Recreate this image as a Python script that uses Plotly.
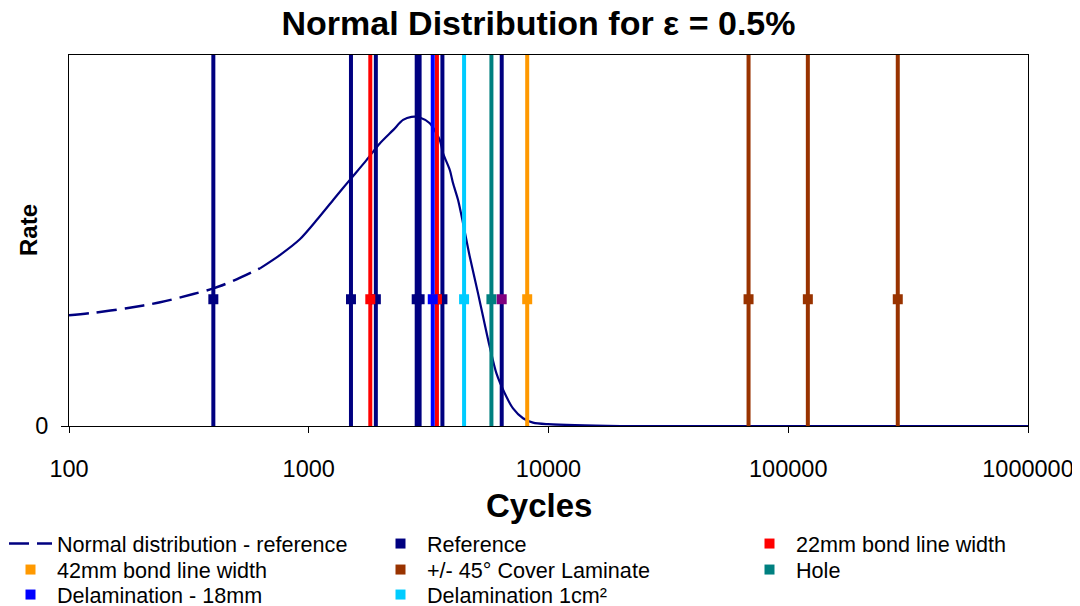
import plotly.graph_objects as go

# ---------------- data ----------------
TITLE = "Normal Distribution for ε = 0.5%"
X_TITLE = "Cycles"
Y_TITLE = "Rate"
X_TICK_VALUES = [100, 1000, 10000, 100000, 1000000]
X_TICK_LABELS = ["100", "1000", "10000", "100000", "1000000"]
Y_TICK_VALUES = [0]
Y_TICK_LABELS = ["0"]

# normal distribution curve (arbitrary rate units, peak = 1)
CURVE_DASHED_X = [100, 126, 174, 240, 330, 400, 500, 626]
CURVE_DASHED_Y = [0.358, 0.366, 0.381, 0.400, 0.427, 0.445, 0.474, 0.510]
CURVE_SOLID_X = [626, 758, 918, 1095, 1264, 1484, 1741, 1979, 2248, 2474, 2682,
                 2905, 3197, 3520, 3633, 3875, 3999, 4196, 4401, 4694, 5083,
                 5334, 5687, 6066, 6568, 7113, 7830, 8619, 9952, 20000, 1000000]
CURVE_SOLID_Y = [0.510, 0.553, 0.604, 0.672, 0.731, 0.796, 0.860, 0.914, 0.957,
                 0.990, 1.000, 0.998, 0.979, 0.925, 0.882, 0.828, 0.785, 0.731,
                 0.656, 0.548, 0.429, 0.354, 0.256, 0.170, 0.106, 0.057, 0.025,
                 0.011, 0.006, 0.0, 0.0]

MARKER_RATE = 0.41
Y_MAX = 1.2

CURVE_NAME = "Normal distribution - reference"
SERIES_NAMES = ["Reference", "22mm bond line width", "42mm bond line width",
                "+/- 45° Cover Laminate", "Hole", "Delamination - 18mm",
                "Delamination 1cm²"]
REFERENCE_CYCLES = [400, 1500, 1905, 2820, 2900, 3610]
BOND22_CYCLES = [1806, 3425]
BOND42_CYCLES = [8150]
COVER45_CYCLES = [68300, 120700, 286300]
HOLE_CYCLES = [5780]
DELAM18_CYCLES = [3290]
DELAM1CM_CYCLES = [4445]
UNLABELLED_CYCLES = [6380]

SERIES_CYCLES = [REFERENCE_CYCLES, BOND22_CYCLES, BOND42_CYCLES, COVER45_CYCLES,
                 HOLE_CYCLES, DELAM18_CYCLES, DELAM1CM_CYCLES]
SERIES_COLORS = ["#000080", "#FF0000", "#FF9900", "#993300", "#008080",
                 "#0000FF", "#00CCFF"]

# ---------------- layout helpers ----------------
# the html page body has an 8px margin, so the figure is drawn 8px in from the corner
OFF = 8
W, H = 1080 - OFF, 606 - OFF
PL, PR, PT, PB = 69 - OFF, 1028 - OFF, 55 - OFF, 426 - OFF  # plot area in figure px
FONT = "Liberation Sans, Arial, sans-serif"


def px_to_paper_x(px):
    """px measured on the 1080x606 screen"""
    return (px - OFF - PL) / (PR - PL)


def px_to_paper_y(py):
    return (PB - (py - OFF)) / (PB - PT)


fig = go.Figure()

# legend slots: (column left px, row centre px) on screen
COL_X = [4, 374, 743]
ROW_Y = [544, 570, 595]
legend_slots = [(0, 0), (1, 0), (2, 0), (0, 1), (1, 1), (2, 1), (0, 2), (1, 2)]
legend_ids = ["legend"] + ["legend%d" % i for i in range(2, 9)]

# curve
fig.add_trace(go.Scatter(
    x=CURVE_DASHED_X, y=CURVE_DASHED_Y, mode="lines", name=CURVE_NAME,
    line=dict(color="#000080", width=2.5, dash="20px,8px", shape="spline",
              smoothing=0.8),
    legend=legend_ids[0], hoverinfo="skip"))
fig.add_trace(go.Scatter(
    x=CURVE_SOLID_X, y=CURVE_SOLID_Y, mode="lines", name=CURVE_NAME,
    line=dict(color="#000080", width=2.2, shape="spline", smoothing=0.8),
    showlegend=False, hoverinfo="skip"))


def vlines(values):
    xs, ys = [], []
    for v in values:
        xs += [v, v, None]
        ys += [0, Y_MAX, None]
    return xs, ys


# vertical lines
all_lines = list(zip(SERIES_CYCLES, SERIES_COLORS)) + [(UNLABELLED_CYCLES, "#000080")]
for vals, col in all_lines:
    xs, ys = vlines(vals)
    fig.add_trace(go.Scatter(x=xs, y=ys, mode="lines", showlegend=False,
                             line=dict(color=col, width=4), hoverinfo="skip"))

# markers
for i, (name, vals, col) in enumerate(zip(SERIES_NAMES, SERIES_CYCLES, SERIES_COLORS)):
    fig.add_trace(go.Scatter(
        x=vals, y=[MARKER_RATE] * len(vals), mode="markers", name=name,
        marker=dict(symbol="square", size=10, color=col),
        legend=legend_ids[i + 1]))
fig.add_trace(go.Scatter(
    x=UNLABELLED_CYCLES, y=[MARKER_RATE] * len(UNLABELLED_CYCLES), mode="markers",
    marker=dict(symbol="square", size=10, color="#800080"), showlegend=False))

legends = {}
for lid, (c, r) in zip(legend_ids, legend_slots):
    legends[lid] = dict(
        x=px_to_paper_x(COL_X[c]), xanchor="left",
        y=px_to_paper_y(ROW_Y[r]), yanchor="middle",
        bgcolor="rgba(0,0,0,0)", borderwidth=0, itemwidth=43,
        font=dict(family=FONT, size=21.6, color="#000000"))

fig.update_layout(
    width=W, height=H,
    margin=dict(l=PL, r=W - PR, t=PT, b=H - PB, autoexpand=False),
    paper_bgcolor="white", plot_bgcolor="white",
    font=dict(family=FONT, color="#000000"),
    title=dict(text=TITLE, x=(538.5 - OFF) / W, xanchor="center",
               y=1 - (23 - OFF) / H, yanchor="middle",
               font=dict(family=FONT, size=34, weight="bold", color="#000000")),
    showlegend=True,
    **legends,
)

fig.update_xaxes(
    type="log", range=[2, 6], tickvals=X_TICK_VALUES, ticktext=X_TICK_LABELS,
    ticks="outside", ticklen=6, tickcolor="#000000", tickwidth=1,
    ticklabelstandoff=16,
    showline=True, linecolor="#000000", linewidth=1, mirror=True,
    showgrid=False, zeroline=False,
    tickfont=dict(family=FONT, size=23.5, color="#000000"))
fig.update_yaxes(
    range=[0, Y_MAX], tickvals=Y_TICK_VALUES, ticktext=Y_TICK_LABELS,
    ticks="outside", ticklen=7, tickcolor="#000000", tickwidth=1,
    ticklabelstandoff=8,
    showline=True, linecolor="#000000", linewidth=1, mirror=True,
    showgrid=False, zeroline=False,
    tickfont=dict(family=FONT, size=23.5, color="#000000"))

fig.add_annotation(text=X_TITLE, xref="paper", yref="paper",
                   x=px_to_paper_x(539), y=px_to_paper_y(505),
                   xanchor="center", yanchor="middle", showarrow=False,
                   font=dict(family=FONT, size=33, weight="bold", color="#000000"))
fig.add_annotation(text=Y_TITLE, xref="paper", yref="paper",
                   x=px_to_paper_x(28), y=px_to_paper_y(230), textangle=-90,
                   xanchor="center", yanchor="middle", showarrow=False,
                   font=dict(family=FONT, size=24, weight="bold", color="#000000"))

fig.write_html("out.html")
